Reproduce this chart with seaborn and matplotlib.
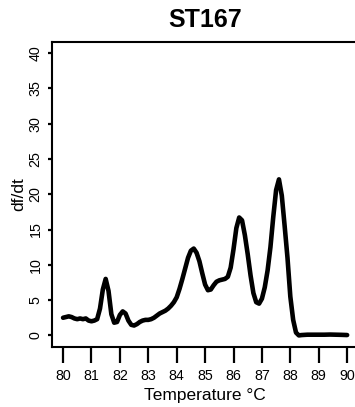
import matplotlib
matplotlib.use("Agg")
import matplotlib.pyplot as plt
import seaborn as sns
import pandas as pd

temperature = [80.0, 80.1, 80.2, 80.3, 80.4, 80.5, 80.6, 80.7, 80.8, 80.9,
               81.0, 81.1, 81.2, 81.3, 81.4, 81.5, 81.6, 81.7, 81.8, 81.9,
               82.0, 82.1, 82.2, 82.3, 82.4, 82.5, 82.6, 82.7, 82.8, 82.9,
               83.0, 83.1, 83.2, 83.3, 83.4, 83.5, 83.6, 83.7, 83.8, 83.9,
               84.0, 84.1, 84.2, 84.3, 84.4, 84.5, 84.6, 84.7, 84.8, 84.9,
               85.0, 85.1, 85.2, 85.3, 85.4, 85.5, 85.6, 85.7, 85.8, 85.9,
               86.0, 86.1, 86.2, 86.3, 86.4, 86.5, 86.6, 86.7, 86.8, 86.9,
               87.0, 87.1, 87.2, 87.3, 87.4, 87.5, 87.6, 87.7, 87.8, 87.9,
               88.0, 88.1, 88.2, 88.3, 88.4, 88.6, 88.8, 89.0, 89.2, 89.4,
               89.6, 89.8, 90.0]
dfdt = [2.5, 2.6, 2.7, 2.6, 2.4, 2.3, 2.4, 2.3, 2.4, 2.1,
        2.0, 2.1, 2.3, 3.8, 6.5, 8.0, 6.3, 3.0, 1.8, 1.9,
        2.9, 3.4, 3.1, 2.1, 1.5, 1.4, 1.6, 1.9, 2.1, 2.2,
        2.2, 2.3, 2.5, 2.8, 3.1, 3.3, 3.5, 3.8, 4.2, 4.7,
        5.4, 6.6, 8.0, 9.5, 11.0, 12.0, 12.3, 11.7, 10.5, 8.8,
        7.2, 6.4, 6.5, 7.1, 7.6, 7.8, 7.9, 8.0, 8.3, 9.6,
        12.2, 15.2, 16.7, 16.3, 14.2, 11.5, 8.5, 6.0, 4.7, 4.5,
        5.2, 6.8, 9.2, 12.5, 16.8, 20.6, 22.1, 19.8, 15.5, 11.0,
        5.5, 2.2, 0.4, 0.0, 0.05, 0.1, 0.1, 0.1, 0.1, 0.12,
        0.1, 0.08, 0.05]
x_ticks = [80, 81, 82, 83, 84, 85, 86, 87, 88, 89, 90]
y_ticks = [0, 5, 10, 15, 20, 25, 30, 35, 40]
title = "ST167"
x_label = "Temperature °C"
y_label = "df/dt"

sns.set_style("ticks")
plt.rcParams["font.family"] = ["Liberation Sans", "DejaVu Sans"]
plt.rcParams["text.color"] = "black"
plt.rcParams["axes.labelcolor"] = "black"
plt.rcParams["xtick.color"] = "black"
plt.rcParams["ytick.color"] = "black"

df = pd.DataFrame({"T": temperature, "v": dfdt})

W, H = 355, 407
fig = plt.figure(figsize=(W / 100, H / 100), dpi=100)
left, right, top, bottom = 51.7, 358.5, 41.7, 346.7
ax = fig.add_axes([left / W, 1 - bottom / H, (right - left) / W, (bottom - top) / H])

sns.lineplot(data=df, x="T", y="v", ax=ax, color="black", linewidth=3.3,
             solid_joinstyle="round", solid_capstyle="round")

ax.set_xlim(79.6, 90.4)
ax.set_ylim(-1.6, 41.6)
ax.set_xticks(x_ticks)
ax.set_xticklabels([str(t) for t in x_ticks], fontsize=10.3, color="black")
ax.set_yticks(y_ticks)
ax.set_yticklabels([str(t) for t in y_ticks], fontsize=10.3, rotation=90,
                   va="center", color="black")

for s in ax.spines.values():
    s.set_visible(True)
    s.set_linewidth(1.5)
    s.set_color("black")

ax.tick_params(axis="x", length=11.5, width=1.6, pad=4.5)
ax.tick_params(axis="y", length=3, width=1.6, pad=3.5)

ax.set_xlabel(x_label, fontsize=12.5, labelpad=4, color="black")
ax.set_ylabel(y_label, fontsize=12.5, labelpad=2, color="black")
fig.text(205 / W, 1 - 20 / H, title, fontsize=18, fontweight="bold",
         ha="center", va="center", color="black")

fig.savefig("out.png", dpi=100)
